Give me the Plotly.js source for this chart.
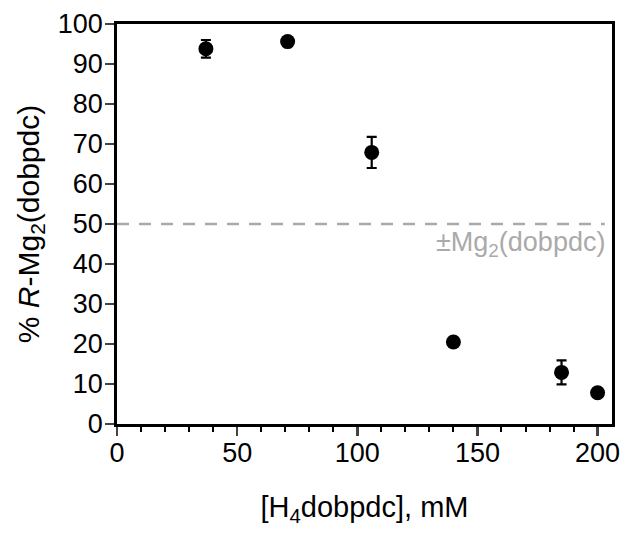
<!DOCTYPE html>
<html><head><meta charset="utf-8">
<script src="https://cdn.plot.ly/plotly-3.0.1.min.js"></script>
<style>html,body{margin:0;padding:0;background:#fff}#c{width:633px;height:534px}</style>
</head><body><div id="c"></div>
<script>
const conc = [37, 71, 106, 140, 185, 200];
const pctR = [93.8, 95.6, 67.9, 20.5, 12.9, 7.8];
const errR = [2.2, 1.0, 3.9, 1.0, 3.0, 1.0];
const refLevel = 50;
const refLabel = '±Mg<sub>2</sub>(dobpdc)';
const xTicks = [0, 50, 100, 150, 200];
const yTicks = [0, 10, 20, 30, 40, 50, 60, 70, 80, 90, 100];

const data = [{
  x: conc, y: pctR, type: 'scatter', mode: 'markers',
  marker: {color: '#000', size: 15},
  error_y: {type: 'data', array: errR, visible: true, color: '#000', thickness: 2.2, width: 5},
  showlegend: false, cliponaxis: false
}];

const layout = {
  width: 633, height: 534,
  margin: {l: 117, r: 21, t: 24, b: 110},
  paper_bgcolor: '#fff', plot_bgcolor: '#fff',
  font: {family: 'Liberation Sans, Arial, sans-serif', color: '#000', size: 27},
  xaxis: {
    range: [0, 206], tickvals: xTicks, ticks: 'outside', ticklen: 9, tickwidth: 2.5,
    showgrid: false, zeroline: false, showline: true, linewidth: 2.8, linecolor: '#000', mirror: true,
    minor: {dtick: 10, tick0: 0, ticks: 'outside', ticklen: 5, tickwidth: 2, tickcolor: '#000', showgrid: false},
    tickfont: {size: 27}, ticklabelstandoff: -6,
    title: {text: '[H<sub>4</sub>dobpdc], mM', font: {size: 29}, standoff: 30}
  },
  yaxis: {
    range: [0, 100], tickvals: yTicks, ticks: 'outside', ticklen: 9, tickwidth: 2.5,
    showgrid: false, zeroline: false, showline: true, linewidth: 2.8, linecolor: '#000', mirror: true,
    tickfont: {size: 27}, ticklabelstandoff: -3,
    title: {text: '% <i>R</i>-Mg<sub>2</sub>(dobpdc)', font: {size: 30}, standoff: 10}
  },
  shapes: [{
    type: 'line', xref: 'x', yref: 'y', x0: 0, x1: 203, y0: refLevel, y1: refLevel,
    line: {color: '#aaaaaa', width: 2.5, dash: '12px,10px'}
  }],
  annotations: [{
    xref: 'x', yref: 'y', x: 204, y: refLevel, xanchor: 'right', yanchor: 'top',
    text: refLabel, showarrow: false, font: {size: 27, color: '#aaaaaa'}, yshift: -1
  }]
};
Plotly.newPlot('c', data, layout, {staticPlot: true});
</script></body></html>
